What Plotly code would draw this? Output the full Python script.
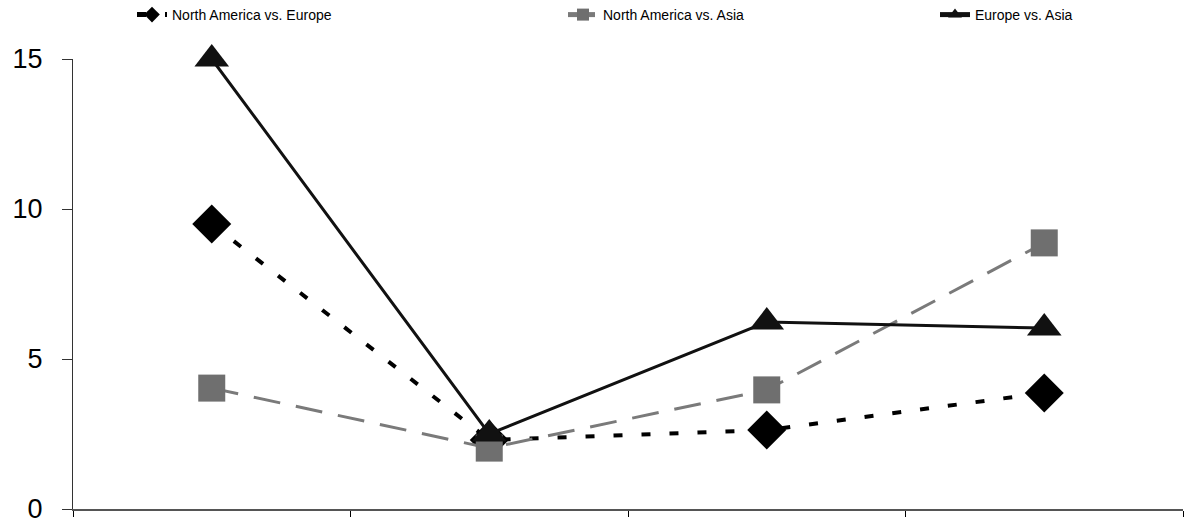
import plotly.graph_objects as go

categories = [0, 1, 2, 3]
series_names = ["North America vs. Europe", "North America vs. Asia", "Europe vs. Asia"]
na_eu = [9.5, 2.3, 2.63, 3.87]
na_as = [4.03, 2.03, 3.97, 8.87]
eu_as = [15.0, 2.5, 6.23, 6.03]

fig = go.Figure()
fig.add_trace(go.Scatter(
    x=categories, y=na_eu, name=series_names[0], mode="lines+markers",
    line=dict(color="#000000", width=4, dash="9px,19px"),
    marker=dict(symbol="diamond", size=30, color="#000000"),
    cliponaxis=False, legend="legend"))
fig.add_trace(go.Scatter(
    x=categories, y=na_as, name=series_names[1], mode="lines+markers",
    line=dict(color="#7a7a7a", width=3, dash="27px,16px"),
    marker=dict(symbol="square", size=27, color="#6f6f6f"),
    cliponaxis=False, legend="legend2"))
fig.add_trace(go.Scatter(
    x=categories, y=eu_as, name=series_names[2], mode="lines+markers",
    line=dict(color="#111111", width=3),
    marker=dict(symbol="triangle-up", size=30, color="#111111"),
    cliponaxis=False, legend="legend3"))

W, H = 1186, 527
text_x = [172, 603, 975]   # pixel where each legend text begins
leg_common = dict(orientation="h", yref="container", y=1 - 15 / H, yanchor="middle",
                  xref="container", xanchor="left", font=dict(size=14),
                  bgcolor="rgba(0,0,0,0)", itemsizing="constant")

fig.update_layout(
    width=W, height=H,
    margin=dict(l=73, r=3, t=59, b=18, autoexpand=False),
    paper_bgcolor="white", plot_bgcolor="white",
    font=dict(family="Liberation Sans, Arial, sans-serif", color="#000000"),
    showlegend=True,
    legend=dict(x=(text_x[0] - 40) / W, **leg_common),
    legend2=dict(x=(text_x[1] - 40) / W, **leg_common),
    legend3=dict(x=(text_x[2] - 40) / W, **leg_common),
    xaxis=dict(range=[-0.5, 3.5], tickvals=[-0.5, 0.5, 1.5, 2.5, 3.5], showticklabels=False,
               ticks="outside", ticklen=6, tickcolor="#000", showline=True, linecolor="#555",
               linewidth=2, showgrid=False, zeroline=False),
    yaxis=dict(range=[0, 15], tickvals=[0, 5, 10, 15], ticks="outside", ticklen=10,
               tickcolor="#333", showline=True, linecolor="#333", linewidth=1,
               showgrid=False, zeroline=False, tickfont=dict(size=27),
               ticklabelstandoff=14),
)
fig.write_html("out.html", config={"displayModeBar": False},
               post_script="document.body.style.margin='0';document.body.style.overflow='hidden';")
